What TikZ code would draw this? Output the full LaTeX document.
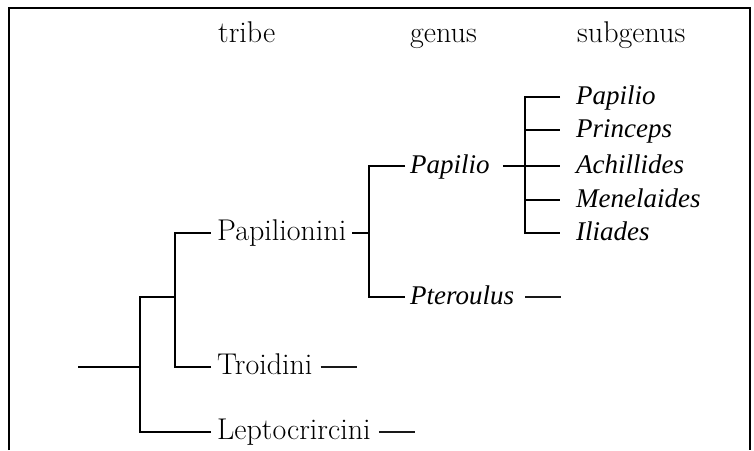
\documentclass[tikz,border=0pt]{standalone}
\usepackage{fontspec}
\newfontfamily\taxafont{Liberation Serif}[ItalicFont={Liberation Serif Italic}]
\usetikzlibrary{calc}

\begin{document}
\begin{tikzpicture}[x=1pt,y=-1pt]
% ---------------------------------------------------------
% Dimensions (pixel-like units, y grows downwards)
% ---------------------------------------------------------
\def\PicW{754}
\def\PicH{450}
\def\FrameL{9}
\def\FrameR{750}
\def\FrameT{8}
\def\HeadY{42}       % baseline of the column titles
\def\StubLen{36}     % length of the short end stubs

% ---------------------------------------------------------
% Styles
% ---------------------------------------------------------
\tikzset{
  frame line/.style={line width=1.6pt},
  tree line/.style={line width=1.2pt},
  stub line/.style={line width=1.8pt, black!90},
  head text/.style={font=\fontsize{30}{34}\selectfont, anchor=base west, inner sep=0pt},
  taxon/.style={font=\fontsize{30}{34}\selectfont, anchor=west,
    text height=19pt, text depth=5pt, inner ysep=0pt},
  tribe/.style={taxon, inner xsep=6pt},
  genus/.style={taxon, inner xsep=5pt, font=\fontsize{27}{30}\selectfont\taxafont\itshape},
  subgenus/.style={taxon, inner xsep=16pt, font=\fontsize{27}{30}\selectfont\taxafont\itshape}
}

\useasboundingbox (0,0) rectangle (\PicW,\PicH);

% =========================================================
% 1) FRAME (open at the bottom)
% =========================================================
\draw[frame line] (\FrameL,\PicH) -- (\FrameL,\FrameT) -- (\FrameR,\FrameT) -- (\FrameR,\PicH);

% =========================================================
% 2) COLUMN TITLES
% =========================================================
\node[head text] (hTribe)    at (218,\HeadY) {tribe};
\node[head text] (hGenus)    at (410,\HeadY) {genus};
\node[head text] (hSubgenus) at (577,\HeadY) {subgenus};

% =========================================================
% 3) TAXON LABELS
% =========================================================
% tribes
\node[tribe] (papilionini)   at (211,233) {Papilionini};
\node[tribe] (troidini)      at (211,367) {Troidini};
\node[tribe] (leptocrircini) at (211,432) {Leptocrircini};

% genera
\node[genus] (gPapilio)   at (405,166) {Papilio};
\node[genus] (gPteroulus) at (405,297) {Pteroulus};

% subgenera
\node[subgenus] (sPapilio)    at (560,97)  {Papilio};
\node[subgenus] (sPrinceps)   at (560,130) {Princeps};
\node[subgenus] (sAchillides) at (560,166) {Achillides};
\node[subgenus] (sMenelaides) at (560,200) {Menelaides};
\node[subgenus] (sIliades)    at (560,233) {Iliades};

% =========================================================
% 4) JUNCTIONS
% =========================================================
\coordinate (root)   at (78,367);
\coordinate (jRoot)  at (140,367);
\coordinate (jTribe) at (175,297);
\coordinate (jGenus) at (369,233);
\coordinate (jSub)   at (525,166);

% =========================================================
% 5) BRANCHES
% =========================================================
\draw[tree line] (root) -- (jRoot);
\draw[tree line] (leptocrircini.west) -| (jRoot) |- (jTribe);
\draw[tree line] (troidini.west) -| (jTribe) |- (papilionini.west);

\draw[tree line] (papilionini.east) -- (jGenus);
\draw[tree line] (gPapilio.west) -| (jGenus) |- (gPteroulus.west);

\draw[tree line] ([xshift=8pt]gPapilio.east) -- (sAchillides.west);
\draw[tree line] (sPapilio.west) -| (jSub) |- (sIliades.west);
\draw[tree line] (jSub |- sPrinceps) -- (sPrinceps.west);
\draw[tree line] (jSub |- sMenelaides) -- (sMenelaides.west);

% short stubs after the terminal taxa
\draw[stub line] ([xshift=2pt]troidini.east) -- ++(\StubLen,0);
\draw[stub line] ([xshift=6pt]gPteroulus.east) -- ++(\StubLen,0);
\draw[stub line] ([xshift=2pt]leptocrircini.east) -- ++(\StubLen,0);

\end{tikzpicture}
\end{document}
